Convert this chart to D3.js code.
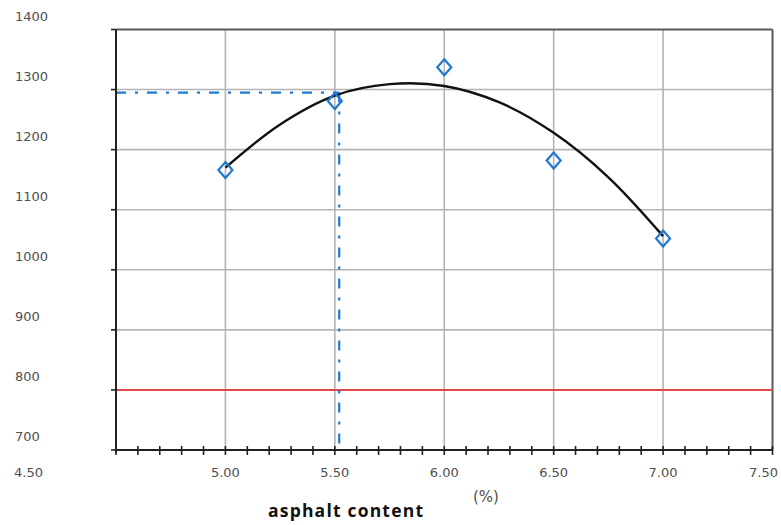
<!DOCTYPE html>
<html>
<head>
<meta charset="utf-8">
<script src="https://cdn.jsdelivr.net/npm/d3@7"></script>
<style>
html,body{margin:0;padding:0;background:#fff;}
svg{display:block;}
</style>
</head>
<body>
<svg id="chart" width="781" height="525"></svg>
<script>
// ---- data ----
const asphaltContent = [5.0, 5.5, 6.0, 6.5, 7.0];
const stability = [1166, 1281, 1337, 1182, 1052];
const fitX = [5.0, 5.25, 5.5, 5.75, 6.0, 6.25, 6.5, 6.75, 7.0];
const fitY = [1170, 1242, 1290, 1309, 1306, 1279, 1228, 1154, 1056];
const yTicks = [700, 800, 900, 1000, 1100, 1200, 1300, 1400];
const xTickLabels = [5.0, 5.5, 6.0, 6.5, 7.0];
const xGrid = [5.0, 5.5, 6.0, 6.5, 7.0];
const minStability = 800;
const optimumX = 5.52;
const optimumY = 1295;

const svg = d3.select("#chart");
svg.append("rect").attr("width", 781).attr("height", 525).attr("fill", "#fff");

const x = d3.scaleLinear().domain([4.5, 7.5]).range([116, 772.5]);
const y = d3.scaleLinear().domain([700, 1400]).range([450, 29.5]);

// grid
const g = svg.append("g");
g.selectAll(".hg").data(yTicks.filter(v => v > 700 && v < 1400)).join("line")
  .attr("x1", x(4.5)).attr("x2", x(7.5))
  .attr("y1", d => y(d)).attr("y2", d => y(d))
  .attr("stroke", "#b4b4b4").attr("stroke-width", 1.6);
g.selectAll(".vg").data(xGrid).join("line")
  .attr("x1", d => x(d)).attr("x2", d => x(d))
  .attr("y1", y(1400)).attr("y2", y(700))
  .attr("stroke", "#b4b4b4").attr("stroke-width", 1.6);

// top & right border
svg.append("line").attr("x1", x(4.5)).attr("x2", x(7.5)).attr("y1", y(1400)).attr("y2", y(1400))
  .attr("stroke", "#5a5a5a").attr("stroke-width", 1.8);
svg.append("line").attr("x1", x(7.5)).attr("x2", x(7.5)).attr("y1", y(1400)).attr("y2", y(700))
  .attr("stroke", "#5a5a5a").attr("stroke-width", 2);

// red minimum line
svg.append("line").attr("x1", x(4.5)).attr("x2", x(7.5))
  .attr("y1", y(minStability)).attr("y2", y(minStability))
  .attr("stroke", "#e04848").attr("stroke-width", 2);

// blue dash-dot reference lines
const blue = "#1f78d1";
svg.append("line").attr("x1", x(4.5)).attr("x2", x(optimumX))
  .attr("y1", y(optimumY)).attr("y2", y(optimumY))
  .attr("stroke", blue).attr("stroke-width", 2.2).attr("stroke-dasharray", "10,9,3,9");
svg.append("line").attr("x1", x(optimumX)).attr("x2", x(optimumX))
  .attr("y1", y(optimumY)).attr("y2", y(700))
  .attr("stroke", blue).attr("stroke-width", 2.2).attr("stroke-dasharray", "10,9,3,9");

// left axis
svg.append("line").attr("x1", x(4.5)).attr("x2", x(4.5)).attr("y1", y(1400)).attr("y2", y(700) + 3)
  .attr("stroke", "#222").attr("stroke-width", 2);
svg.selectAll(".yt").data(yTicks).join("line")
  .attr("x1", x(4.5) - 5).attr("x2", x(4.5))
  .attr("y1", d => y(d)).attr("y2", d => y(d))
  .attr("stroke", "#222").attr("stroke-width", 1.6);

// bottom axis
svg.append("line").attr("x1", x(4.5)).attr("x2", x(7.5)).attr("y1", y(700)).attr("y2", y(700))
  .attr("stroke", "#222").attr("stroke-width", 2.2);
const minor = d3.range(45, 76).map(d => d / 10);
svg.selectAll(".xt").data(minor).join("line")
  .attr("x1", d => x(d)).attr("x2", d => x(d))
  .attr("y1", y(700) - 4).attr("y2", y(700) + 5)
  .attr("stroke", "#222").attr("stroke-width", 1.6);

// tick labels
const lblFont = "'DejaVu Sans', Verdana, sans-serif";
const lblColor = "#505050";
svg.selectAll(".yl").data(yTicks).join("text")
  .attr("x", 15).attr("y", d => y(d) - 12.5)
  .attr("dominant-baseline", "middle")
  .attr("font-family", lblFont).attr("font-size", 13).attr("fill", lblColor)
  .text(d => d);
svg.append("text").attr("x", 14).attr("y", 473).attr("dominant-baseline", "middle")
  .attr("font-family", lblFont).attr("font-size", 13).attr("fill", lblColor)
  .text(d3.format(".2f")(4.5));
svg.selectAll(".xl").data(xTickLabels).join("text")
  .attr("x", d => x(d)).attr("y", 473)
  .attr("dominant-baseline", "middle").attr("text-anchor", "middle")
  .attr("font-family", lblFont).attr("font-size", 13).attr("fill", lblColor)
  .text(d => d3.format(".2f")(d));
svg.append("text").attr("x", 778).attr("y", 473)
  .attr("dominant-baseline", "middle").attr("text-anchor", "end")
  .attr("font-family", lblFont).attr("font-size", 13).attr("fill", lblColor)
  .text(d3.format(".2f")(7.5));

svg.append("text").attr("x", 486).attr("y", 497).attr("dominant-baseline", "middle")
  .attr("text-anchor", "middle")
  .attr("font-family", lblFont).attr("font-size", 15).attr("fill", lblColor).text("(%)");
svg.append("text").attr("x", 268).attr("y", 517)
  .attr("font-family", "'Open Sans', sans-serif").attr("font-weight", "bold")
  .attr("font-size", 17.5).attr("fill", "#111")
  .attr("textLength", 155).attr("lengthAdjust", "spacing")
  .text("asphalt content");

// fitted curve
const fit = fitX.map((d, i) => [d, fitY[i]]);
svg.append("path").datum(fit)
  .attr("d", d3.line().x(d => x(d[0])).y(d => y(d[1])).curve(d3.curveCatmullRom))
  .attr("fill", "none").attr("stroke", "#111").attr("stroke-width", 2.4);

// diamonds
const pts = asphaltContent.map((d, i) => [d, stability[i]]);
svg.selectAll(".pt").data(pts).join("path")
  .attr("transform", d => `translate(${x(d[0])},${y(d[1])})`)
  .attr("d", "M0,-8L7,0L0,8L-7,0Z")
  .attr("fill", "none").attr("stroke", blue).attr("stroke-width", 2.2);
</script>
</body>
</html>
